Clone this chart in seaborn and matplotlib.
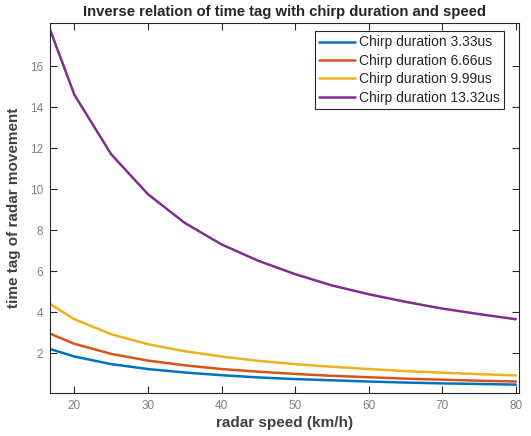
import numpy as np
import pandas as pd
import matplotlib
matplotlib.use("Agg")
import matplotlib.pyplot as plt
import seaborn as sns

speed = [16.67, 20, 25, 30, 35, 40, 45, 50, 55, 60, 65, 70, 75, 80]
chirp_3_33 = [2.20, 1.83, 1.46, 1.22, 1.05, 0.92, 0.81, 0.73, 0.67, 0.61, 0.56, 0.52, 0.49, 0.46]
chirp_6_66 = [2.95, 2.45, 1.96, 1.63, 1.40, 1.22, 1.09, 0.98, 0.89, 0.82, 0.75, 0.70, 0.65, 0.61]
chirp_9_99 = [4.40, 3.65, 2.92, 2.43, 2.09, 1.83, 1.62, 1.46, 1.33, 1.22, 1.12, 1.04, 0.97, 0.91]
chirp_13_32 = [17.8, 14.6, 11.7, 9.75, 8.35, 7.30, 6.50, 5.85, 5.30, 4.87, 4.50, 4.17, 3.90, 3.65]
labels = ["Chirp duration 3.33us", "Chirp duration 6.66us",
          "Chirp duration 9.99us", "Chirp duration 13.32us"]
colors = ["#0072BD", "#D95319", "#EDB120", "#7E2F8E"]

rows = []
for lab, vals in zip(labels, [chirp_3_33, chirp_6_66, chirp_9_99, chirp_13_32]):
    for s, v in zip(speed, vals):
        rows.append({"speed": s, "tag": v, "series": lab})
df = pd.DataFrame(rows)

sns.set_style("white")
plt.rcParams['font.family'] = ['Liberation Sans', 'DejaVu Sans']

fig = plt.figure(figsize=(5.31, 4.36), dpi=100)
ax = fig.add_axes([0.094, 0.0986, 0.883, 0.8484])
sns.lineplot(data=df, x="speed", y="tag", hue="series", hue_order=labels,
             palette=colors, linewidth=1.8, ax=ax, legend=True)

ax.set_xlim(16.67, 80.4)
ax.set_ylim(0.05, 18.1)
ax.set_xticks([20, 30, 40, 50, 60, 70, 80])
ax.set_yticks([2, 4, 6, 8, 10, 12, 14, 16])
ax.tick_params(axis='both', which='both', direction='in', length=5, width=0.8,
               color='#262626', labelcolor='#808080', labelsize=8.5,
               top=True, right=True, bottom=True, left=True, pad=5)
for sp in ax.spines.values():
    sp.set_visible(True)
    sp.set_color('#262626')
    sp.set_linewidth(0.8)

ax.set_xlabel("radar speed (km/h)", fontsize=11, fontweight='bold', color='#404040', labelpad=3)
ax.set_ylabel("time tag of radar movement", fontsize=11, fontweight='bold', color='#404040', labelpad=6)
ax.set_title("Inverse relation of time tag with chirp duration and speed",
             fontsize=10.7, fontweight='bold', color='#262626', pad=5)

leg = ax.legend(loc='upper right', bbox_to_anchor=(0.968, 0.978), fontsize=10,
                frameon=True, fancybox=False,
                edgecolor='#262626', framealpha=1, handlelength=2.6,
                handletextpad=0.25, borderpad=0.3, labelspacing=0.32,
                borderaxespad=0.0)
leg.get_frame().set_linewidth(0.8)
for t in leg.get_texts():
    t.set_color('#262626')

fig.savefig("out.png", dpi=100)
